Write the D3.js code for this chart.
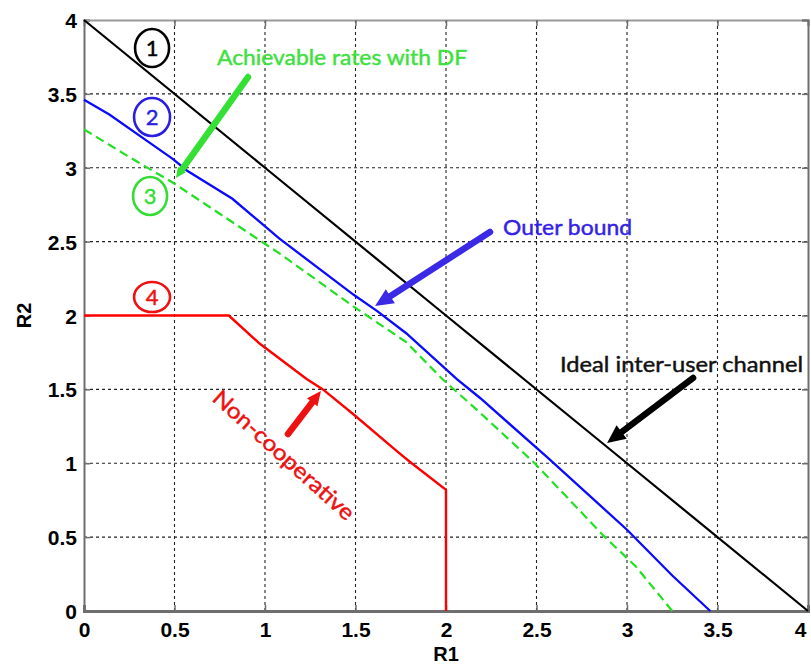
<!DOCTYPE html>
<html>
<head>
<meta charset="utf-8">
<script src="https://cdn.jsdelivr.net/npm/d3@7"></script>
<style>
    body { margin: 0; background: #fff; }
    svg { display: block; }
    .tick text { font-family: "Liberation Sans", Arial, sans-serif; font-weight: bold; font-size: 21px; fill: #000; }
    .note { font-family: Lato, "Open Sans", sans-serif; stroke-width: 0.45px; }
</style>
</head>
<body>
<div id="chart"></div>
<script>

// axis ticks
let xTicks = [0, 0.5, 1, 1.5, 2, 2.5, 3, 3.5, 4];
let yTicks = [0, 0.5, 1, 1.5, 2, 2.5, 3, 3.5, 4];

// rate regions [R1, R2]
let idealChannel = [[0, 4], [1, 3], [2, 2], [3, 1], [4, 0]];

let outerBound = [[0, 3.46], [0.14, 3.36], [0.35, 3.18], [0.49, 3.06], [0.57, 2.98], [0.82, 2.79],
    [1.08, 2.52], [1.49, 2.14], [1.62, 2.03], [1.78, 1.88], [2.06, 1.57], [2.19, 1.44],
    [2.56, 1.04], [3.0, 0.55], [3.25, 0.24], [3.46, 0]];

let achievableDF = [[0, 3.26], [0.24, 3.08], [0.49, 2.90], [1.08, 2.42], [1.49, 2.06], [1.78, 1.82],
    [1.98, 1.57], [2.19, 1.34], [2.49, 1.00], [2.87, 0.51], [3.05, 0.30], [3.25, 0]];

let nonCooperative = [[0, 2], [0.8, 2], [0.97, 1.81], [1.23, 1.57], [1.32, 1.50], [1.49, 1.33],
    [1.73, 1.08], [1.80, 1.01], [2, 0.82], [2, 0]];

// numbered circles: label, R1, R2
let circleLabels = ["1", "2", "3", "4"];
let circleR1 = [0.376, 0.376, 0.365, 0.376];
let circleR2 = [3.81, 3.343, 2.809, 2.125];

// annotation texts and arrows (from [R1,R2] to [R1,R2])
let noteTexts = ["Achievable rates with DF", "Outer bound", "Ideal inter-user channel"];
let noteR1 = [0.735, 2.315, 2.63];
let noteR2 = [3.695, 2.545, 1.618];
let arrowFrom = [[0.906, 3.614], [2.243, 2.565], [3.365, 1.577], [1.127, 1.198]];
let arrowTo = [[0.508, 2.931], [1.608, 2.064], [2.890, 1.137], [1.309, 1.489]];
let rotatedNote = {text: "Non-cooperative", r1: 1.105, r2: 1.056};


let width = 811, height = 669;
let margin = {top: 20, right: 3, bottom: 58, left: 84};

let svg = d3.select("#chart").append("svg")
    .attr("width", width)
    .attr("height", height);

let x = d3.scaleLinear().domain([0, 4]).range([margin.left, width - margin.right]);
let y = d3.scaleLinear().domain([0, 4]).range([height - margin.bottom, margin.top]);

// grid
svg.append("g")
    .selectAll("line.gx")
    .data(xTicks.slice(1, -1))
    .enter().append("line")
    .attr("x1", d => x(d)).attr("x2", d => x(d))
    .attr("y1", y(0)).attr("y2", y(4))
    .attr("stroke", "#222").attr("stroke-width", 1.1)
    .attr("stroke-dasharray", "3,3");

svg.append("g")
    .selectAll("line.gy")
    .data(yTicks.slice(1, -1))
    .enter().append("line")
    .attr("x1", x(0)).attr("x2", x(4))
    .attr("y1", d => y(d)).attr("y2", d => y(d))
    .attr("stroke", "#222").attr("stroke-width", 1.1)
    .attr("stroke-dasharray", "3,3");

// axes
let axisColor = "#6e6e6e";

let xAxis = svg.append("g")
    .attr("transform", `translate(0,${y(0)})`)
    .call(d3.axisBottom(x).tickValues(xTicks).tickSize(-6).tickPadding(11).tickFormat(d3.format("")));

let yAxis = svg.append("g")
    .attr("transform", `translate(${x(0)},0)`)
    .call(d3.axisLeft(y).tickValues(yTicks).tickSize(-6).tickPadding(7).tickFormat(d3.format("")));

let topAxis = svg.append("g")
    .attr("transform", `translate(0,${y(4)})`)
    .call(d3.axisTop(x).tickValues(xTicks).tickSize(-6).tickFormat(""));

let rightAxis = svg.append("g")
    .attr("transform", `translate(${x(4)},0)`)
    .call(d3.axisRight(y).tickValues(yTicks).tickSize(-6).tickFormat(""));

[xAxis, yAxis, topAxis, rightAxis].forEach(a => {
    a.select(".domain").attr("stroke", axisColor).attr("stroke-width", 2);
    a.selectAll(".tick line").attr("stroke", axisColor).attr("stroke-width", 1.5);
});
xAxis.select(".domain").attr("stroke-width", 3);
topAxis.select(".domain").attr("stroke", "#999");
yAxis.selectAll(".tick text").attr("dy", "0.36em");

// last x label sits at the right edge, keep it inside the picture
xAxis.selectAll(".tick text").filter(d => d === 4).attr("text-anchor", "end").attr("dx", "-0.1em");

// axis titles
svg.append("text")
    .attr("x", x(2))
    .attr("y", 661)
    .attr("text-anchor", "middle")
    .style("font-family", "Liberation Sans, Arial, sans-serif")
    .style("font-weight", "bold")
    .style("font-size", "20px")
    .text("R1");

svg.append("text")
    .attr("transform", `translate(31,${y(2)}) rotate(-90)`)
    .attr("text-anchor", "middle")
    .style("font-family", "Liberation Sans, Arial, sans-serif")
    .style("font-weight", "bold")
    .style("font-size", "20px")
    .text("R2");

// curves
let line = d3.line().x(d => x(d[0])).y(d => y(d[1]));

svg.append("path").datum(idealChannel)
    .attr("d", line).attr("fill", "none")
    .attr("stroke", "#000").attr("stroke-width", 2.2);

svg.append("path").datum(outerBound)
    .attr("d", line).attr("fill", "none")
    .attr("stroke", "#0a0aff").attr("stroke-width", 2.3);

svg.append("path").datum(achievableDF)
    .attr("d", line).attr("fill", "none")
    .attr("stroke", "#22e022").attr("stroke-width", 2.2)
    .attr("stroke-dasharray", "9,5");

svg.append("path").datum(nonCooperative)
    .attr("d", line).attr("fill", "none")
    .attr("stroke", "#ff0000").attr("stroke-width", 2.4);

// numbered circles
let circleColors = ["#000", "#2a1ee0", "#33dd33", "#ee1111"];
let circleRx = [17, 18, 17, 18];
let circleRy = [19, 19, 19, 15];

let circles = svg.append("g").selectAll("g")
    .data(circleLabels)
    .enter().append("g")
    .attr("transform", (d, i) => `translate(${x(circleR1[i])},${y(circleR2[i])})`);

circles.append("ellipse")
    .attr("rx", (d, i) => circleRx[i])
    .attr("ry", (d, i) => circleRy[i])
    .attr("fill", "none")
    .attr("stroke", (d, i) => circleColors[i])
    .attr("stroke-width", 2.6);

circles.append("text")
    .attr("class", "note")
    .attr("text-anchor", "middle")
    .attr("dy", "0.36em")
    .style("font-size", "22px")
    .attr("fill", (d, i) => circleColors[i])
    .attr("stroke", (d, i) => circleColors[i])
    .text(d => d);

// notes
let noteColors = ["#3ee03e", "#3322e6", "#111"];
let noteWidths = [250, 129, 243];

svg.append("g").selectAll("text")
    .data(noteTexts)
    .enter().append("text")
    .attr("class", "note")
    .attr("x", (d, i) => x(noteR1[i]))
    .attr("y", (d, i) => y(noteR2[i]))
    .attr("textLength", (d, i) => noteWidths[i])
    .attr("lengthAdjust", "spacingAndGlyphs")
    .style("font-size", "22px")
    .attr("fill", (d, i) => noteColors[i])
    .attr("stroke", (d, i) => noteColors[i])
    .text(d => d);

svg.append("text")
    .attr("class", "note")
    .attr("transform", `translate(${x(rotatedNote.r1)},${y(rotatedNote.r2)}) rotate(42)`)
    .attr("text-anchor", "middle")
    .attr("dy", "0.36em")
    .attr("textLength", 182)
    .attr("lengthAdjust", "spacingAndGlyphs")
    .style("font-size", "22px")
    .attr("fill", "#ee1111")
    .attr("stroke", "#ee1111")
    .text(rotatedNote.text);

// arrows
let arrowColors = ["#33e033", "#3a2ae6", "#000", "#ee1111"];
let headSize = [8, 14, 14, 11];

arrowFrom.forEach((from, i) => {
    let x1 = x(from[0]), y1 = y(from[1]);
    let x2 = x(arrowTo[i][0]), y2 = y(arrowTo[i][1]);
    let ang = Math.atan2(y2 - y1, x2 - x1);
    let h = headSize[i];
    let bx = x2 - h * 1.3 * Math.cos(ang), by = y2 - h * 1.3 * Math.sin(ang);

    svg.append("line")
        .attr("x1", x1).attr("y1", y1)
        .attr("x2", bx + 2 * Math.cos(ang)).attr("y2", by + 2 * Math.sin(ang))
        .attr("stroke", arrowColors[i])
        .attr("stroke-width", 6.5)
        .attr("stroke-linecap", "round");

    let px = -Math.sin(ang) * h * 0.6, py = Math.cos(ang) * h * 0.6;
    svg.append("polygon")
        .attr("points", [[x2, y2], [bx + px, by + py], [bx - px, by - py]].map(p => p.join(",")).join(" "))
        .attr("fill", arrowColors[i]);
});

</script>
</body>
</html>
